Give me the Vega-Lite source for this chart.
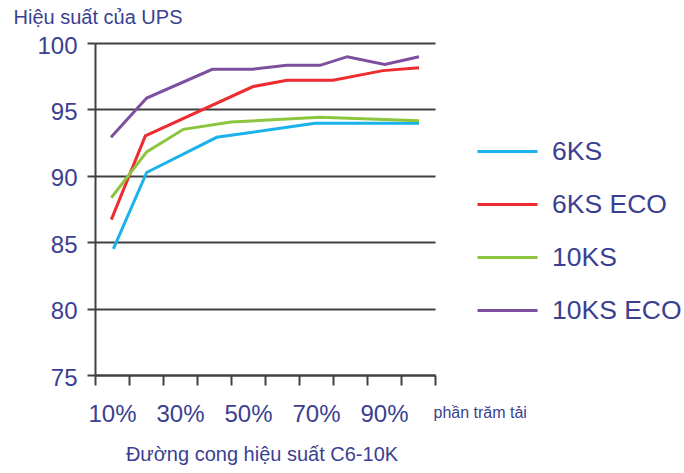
{
  "$schema": "https://vega.github.io/schema/vega-lite/v6.json",
  "width": 340,
  "height": 332,
  "autosize": {"type": "none"},
  "padding": {"left": 95, "top": 43, "right": 249, "bottom": 98},
  "background": "white",
  "title": {
    "text": "Đường cong hiệu suất C6-10K",
    "orient": "bottom",
    "anchor": "middle",
    "frame": "group",
    "offset": 19,
    "dx": -3,
    "font": "Liberation Sans",
    "fontSize": 20,
    "fontWeight": "normal",
    "color": "#3b3f91"
  },
  "config": {
    "view": {"stroke": null},
    "font": "Liberation Sans"
  },
  "data": {
    "values": [
      {"series": "6KS", "load": 10.4, "eff": 84.5},
      {"series": "6KS", "load": 20.2, "eff": 90.25},
      {"series": "6KS", "load": 40.8, "eff": 92.9},
      {"series": "6KS", "load": 69.7, "eff": 93.95},
      {"series": "6KS", "load": 100.3, "eff": 93.95},
      {"series": "6KS ECO", "load": 9.8, "eff": 86.7},
      {"series": "6KS ECO", "load": 19.8, "eff": 93.0},
      {"series": "6KS ECO", "load": 51.5, "eff": 96.72},
      {"series": "6KS ECO", "load": 61.5, "eff": 97.2},
      {"series": "6KS ECO", "load": 75.0, "eff": 97.2},
      {"series": "6KS ECO", "load": 89.7, "eff": 97.92},
      {"series": "6KS ECO", "load": 100.3, "eff": 98.13},
      {"series": "10KS", "load": 9.8, "eff": 88.35},
      {"series": "10KS", "load": 20.2, "eff": 91.8},
      {"series": "10KS", "load": 31.0, "eff": 93.5},
      {"series": "10KS", "load": 45.0, "eff": 94.05},
      {"series": "10KS", "load": 71.2, "eff": 94.4},
      {"series": "10KS", "load": 100.3, "eff": 94.15},
      {"series": "10KS ECO", "load": 9.7, "eff": 92.9},
      {"series": "10KS ECO", "load": 20.2, "eff": 95.85},
      {"series": "10KS ECO", "load": 39.5, "eff": 98.02},
      {"series": "10KS ECO", "load": 51.3, "eff": 98.02},
      {"series": "10KS ECO", "load": 61.4, "eff": 98.32},
      {"series": "10KS ECO", "load": 71.2, "eff": 98.32},
      {"series": "10KS ECO", "load": 79.2, "eff": 98.97},
      {"series": "10KS ECO", "load": 90.2, "eff": 98.38},
      {"series": "10KS ECO", "load": 100.3, "eff": 98.97}
    ]
  },
  "mark": {"type": "line", "strokeWidth": 3, "clip": false},
  "encoding": {
    "x": {
      "field": "load",
      "type": "quantitative",
      "scale": {"domain": [5, 105], "nice": false, "zero": false},
      "axis": {
        "values": [5, 10, 15, 20, 25, 30, 35, 40, 45, 50, 55, 60, 65, 70, 75, 80, 85, 90, 95, 100, 105],
        "labelExpr": "datum.value % 20 == 10 ? datum.value + '%' : ''",
        "tickOpacity": {"expr": "datum.value % 10 == 5 ? 1 : 0"},
        "tickSize": 10,
        "tickWidth": 2,
        "tickColor": "#404040",
        "domainColor": "#404040",
        "domainWidth": 2,
        "grid": false,
        "labelFontSize": 24,
        "labelColor": "#3b3f91",
        "labelPadding": 17,
        "labelFlush": false,
        "labelOverlap": false,
        "labelBound": false,
        "title": "phần trăm tải",
        "titleFontSize": 16,
        "titleFontWeight": "normal",
        "titleColor": "#3b3f91",
        "titleAlign": "left",
        "titleBaseline": "alphabetic",
        "titleX": 338,
        "titleY": 42
      }
    },
    "y": {
      "field": "eff",
      "type": "quantitative",
      "scale": {"domain": [75, 100], "nice": false, "zero": false},
      "axis": {
        "values": [75, 80, 85, 90, 95, 100],
        "grid": true,
        "gridColor": "#404040",
        "gridWidth": 2,
        "gridOpacity": 1,
        "tickSize": 8,
        "tickWidth": 2,
        "tickColor": "#404040",
        "domainColor": "#404040",
        "domainWidth": 2,
        "labelFontSize": 24,
        "labelColor": "#3b3f91",
        "labelPadding": 10,
        "labelOffset": 3,
        "labelFlush": false,
        "title": "Hiệu suất của UPS",
        "titleAngle": 0,
        "titleAlign": "left",
        "titleBaseline": "alphabetic",
        "titleX": -82,
        "titleY": -20,
        "titleFontSize": 20,
        "titleFontWeight": "normal",
        "titleColor": "#3b3f91"
      }
    },
    "color": {
      "field": "series",
      "type": "nominal",
      "sort": ["6KS", "6KS ECO", "10KS", "10KS ECO"],
      "scale": {
        "domain": ["6KS", "6KS ECO", "10KS", "10KS ECO"],
        "range": ["#1ab1ec", "#ee2b30", "#8cc63e", "#7d4f9e"]
      },
      "legend": {
        "orient": "none",
        "legendX": 381,
        "legendY": 77,
        "title": null,
        "symbolType": "stroke",
        "symbolSize": 3600,
        "symbolStrokeWidth": 3,
        "labelFontSize": 26.5,
        "labelColor": "#3b3f91",
        "labelOffset": 13,
        "rowPadding": 8,
        "labelLimit": 300
      }
    }
  }
}
